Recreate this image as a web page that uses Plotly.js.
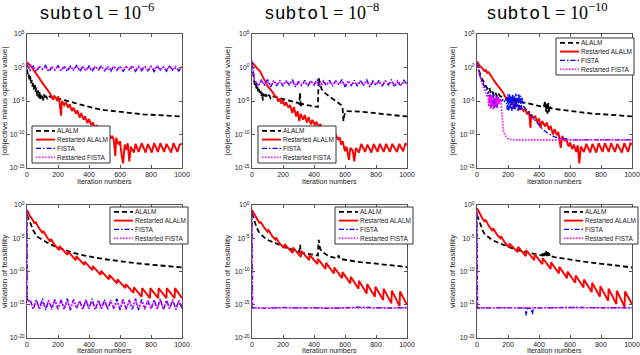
<!DOCTYPE html>
<html><head><meta charset="utf-8">
<script src="https://cdn.plot.ly/plotly-3.0.1.min.js"></script>
<style>html,body{margin:0;padding:0;background:#fff;} #chart{width:640px;height:355px;}</style>
</head><body><div id="chart"></div>
<script>
// ---------- series meta ----------
const seriesNames = ['ALALM', 'Restarted ALALM', 'FISTA', 'Restarted FISTA'];
const subtolExps = ['−6', '−8', '−10'];
const iterTicks = [0, 200, 400, 600, 800, 1000];
const topTickExps = [-15, -10, -5, 0, 5];
const botTickExps = [-20, -15, -10, -5, 0];
const yTitles = ['|objective minus optimal value|', 'violation of feasibility'];
const xTitle = 'Iteration numbers';

// ---------- data: [iteration, log10(value)] ----------
// Top row: |objective minus optimal value|
const T1_alalm = [[0,-0.3],[5,-1.0],[10,-0.8],[15,-1.8],[20,-1.3],[25,-2.4],[30,-1.9],[35,-2.8],[40,-2.2],[45,-3.3],[50,-2.6],[55,-3.6],[60,-3.0],[65,-4.2],[70,-3.4],[75,-4.5],[80,-3.6],[85,-4.8],[90,-3.9],[95,-4.6],[100,-4.1],[105,-4.9],[110,-4.0],[115,-4.7],[120,-4.2],[130,-4.6],[140,-4.2],[150,-4.4],[175,-4.5],[200,-4.65],[250,-5.0],[300,-5.35],[350,-5.65],[400,-5.9],[450,-6.15],[500,-6.35],[550,-6.5],[600,-6.65],[650,-6.8],[700,-6.9],[750,-7.0],[800,-7.05],[850,-7.15],[900,-7.2],[950,-7.25],[1000,-7.3]];
const T1_ralalm = [[0,0.8],[10,0.6],[20,0.3],[30,0.1],[40,-0.3],[50,-0.6],[60,-0.9],[70,-1.3],[80,-1.6],[90,-2.0],[100,-2.3],[110,-2.6],[120,-3.0],[130,-3.2],[140,-3.6],[150,-3.9],[160,-4.5],[170,-4.8],[175,-4.2],[185,-4.5],[195,-5.0],[200,-4.3],[210,-5.2],[220,-7.2],[225,-5.0],[240,-5.6],[250,-5.2],[265,-6.0],[275,-5.5],[290,-6.5],[300,-6.0],[315,-6.9],[325,-6.4],[340,-7.5],[350,-6.8],[365,-7.8],[375,-7.3],[390,-8.3],[400,-7.7],[415,-8.6],[425,-8.2],[440,-9.2],[450,-8.6],[465,-9.5],[475,-9.1],[490,-10.0],[500,-9.5],[515,-10.3],[525,-9.9],[540,-10.6],[550,-10.2],[560,-10.9],[570,-13.2],[575,-10.5],[590,-11.5],[600,-11.0],[610,-13.0],[620,-14.3],[630,-11.5],[640,-12.3],[650,-11.3],[660,-14.0],[670,-11.8],[690,-12.7],[700,-11.4],[720,-12.6],[740,-11.3],[765,-12.7],[780,-11.4],[805,-12.7],[820,-11.3],[845,-12.6],[860,-11.3],[885,-12.6],[900,-11.4],[930,-12.7],[945,-11.3],[970,-12.6],[985,-11.5],[1000,-11.4]];
// FISTA bands sampled every 20 iterations from 0
const T1_fista_band = [
  0.5,-0.5,0.2,-0.6,0.1,-0.3,0.3,-0.6,0.0,-0.4,
  0.25,-0.5,0.1,-0.6,0.2,-0.3,0.3,-0.55,0.05,-0.45,
  0.2,-0.6,0.15,-0.35,0.3,-0.5,0.0,-0.6,0.2,-0.4,
  0.25,-0.55,0.1,-0.3,0.3,-0.6,0.05,-0.45,0.2,-0.5,
  0.15,-0.6,0.25,-0.35,0.1,-0.55,0.3,-0.4,0.0,-0.5,
  0.1];
const T1_rfista_band = [
  0.6,-0.3,0.15,-0.4,0.2,-0.2,0.1,-0.4,0.2,-0.3,
  0.15,-0.35,0.2,-0.25,0.1,-0.4,0.2,-0.3,0.15,-0.4,
  0.05,-0.3,0.2,-0.35,0.1,-0.4,0.2,-0.25,0.15,-0.4,
  0.1,-0.3,0.2,-0.35,0.15,-0.4,0.2,-0.25,0.1,-0.4,
  0.2,-0.3,0.15,-0.35,0.1,-0.4,0.2,-0.3,0.15,-0.35,
  0.0];

const T2_alalm = [[0,0.5],[5,-0.8],[10,-1.8],[15,-2.2],[20,-2.8],[25,-2.5],[30,-3.3],[35,-2.9],[40,-3.7],[45,-3.2],[50,-4.0],[55,-3.5],[60,-4.3],[65,-3.7],[70,-4.9],[75,-3.9],[80,-4.5],[90,-4.0],[100,-4.5],[110,-4.1],[120,-4.6],[130,-4.3],[150,-4.4],[200,-4.7],[250,-5.0],[300,-5.3],[305,-5.5],[310,-3.8],[315,-6.0],[320,-5.4],[350,-5.6],[400,-5.8],[425,-5.9],[430,-1.6],[440,-2.6],[450,-3.3],[475,-3.9],[500,-4.3],[525,-4.7],[550,-5.1],[575,-5.6],[585,-6.2],[590,-8.0],[595,-7.2],[600,-6.8],[610,-6.5],[650,-6.5],[700,-6.6],[750,-6.7],[800,-6.85],[850,-7.0],[900,-7.1],[950,-7.2],[1000,-7.3]];
const T2_ralalm = [[0,0.8],[10,0.5],[20,0.2],[30,0.0],[40,-0.3],[50,-0.5],[60,-0.9],[70,-1.3],[80,-1.8],[90,-2.3],[100,-2.8],[110,-3.0],[120,-3.3],[130,-3.6],[140,-4.0],[150,-4.3],[160,-4.4],[170,-5.1],[180,-4.6],[190,-5.4],[200,-4.9],[210,-5.7],[220,-5.2],[235,-6.0],[245,-5.6],[260,-6.8],[270,-5.9],[285,-7.3],[295,-6.5],[305,-8.0],[315,-6.9],[330,-7.8],[340,-7.1],[355,-8.2],[365,-7.4],[380,-8.5],[390,-7.8],[405,-8.6],[415,-8.1],[430,-9.0],[440,-8.4],[455,-9.2],[465,-8.8],[480,-9.6],[490,-9.2],[505,-10.0],[515,-9.6],[530,-10.3],[540,-10.0],[555,-10.8],[565,-10.4],[575,-11.5],[585,-11.0],[600,-12.5],[610,-11.8],[625,-13.8],[635,-12.0],[650,-12.4],[660,-14.0],[670,-12.0],[690,-12.7],[705,-11.4],[730,-12.6],[745,-11.5],[770,-12.7],[785,-11.4],[810,-12.6],[825,-11.4],[850,-12.6],[865,-11.4],[890,-12.6],[905,-11.4],[935,-12.6],[950,-11.4],[975,-12.5],[990,-11.3],[1000,-11.6]];
const T2_fista_head = [[0,1.0],[5,0.0],[10,-1.0],[15,-1.8]];
const T2_fista_band = [  // from iteration 20, every 20
  -2.0,-2.8,-1.9,-2.6,-1.8,-2.9,-2.1,-2.7,-1.9,-2.8,
  -2.0,-2.6,-1.8,-2.9,-2.2,-2.7,-1.9,-2.8,-2.0,-2.6,
  -1.8,-2.9,-2.1,-2.7,-1.9,-2.8,-2.0,-2.6,-1.8,-2.9,
  -2.2,-2.7,-1.9,-2.8,-2.0,-2.6,-1.8,-2.9,-2.1,-2.7,
  -1.9,-2.8,-2.0,-2.6,-1.8,-2.9,-2.2,-2.7,-1.9,-2.5];
const T2_rfista_head = [[0,0.9],[5,-0.2],[10,-1.1],[15,-1.9]];
const T2_rfista_band = [
  -2.1,-2.6,-2.0,-2.5,-2.1,-2.7,-2.0,-2.5,-2.2,-2.6,
  -2.0,-2.5,-2.1,-2.7,-2.0,-2.6,-2.2,-2.5,-2.0,-2.6,
  -2.1,-2.7,-2.0,-2.5,-2.2,-2.6,-2.0,-2.5,-2.1,-2.7,
  -2.0,-2.6,-2.2,-2.5,-2.0,-2.6,-2.1,-2.7,-2.0,-2.5,
  -2.2,-2.6,-2.0,-2.5,-2.1,-2.7,-2.0,-2.6,-2.2,-2.4];

const T3_alalm = [[0,0.7],[10,-0.3],[20,-1.0],[30,-1.6],[40,-2.0],[50,-2.4],[60,-2.9],[70,-3.3],[80,-3.0],[90,-3.9],[100,-3.6],[110,-4.3],[120,-3.8],[130,-4.4],[140,-4.0],[150,-4.3],[175,-4.4],[200,-4.6],[250,-4.9],[300,-5.2],[350,-5.5],[400,-5.75],[430,-5.9],[440,-5.0],[445,-6.6],[450,-5.5],[455,-6.9],[460,-5.3],[465,-6.6],[470,-5.9],[480,-6.1],[500,-6.2],[550,-6.35],[600,-6.5],[650,-6.65],[700,-6.8],[750,-6.9],[800,-6.95],[850,-7.05],[900,-7.15],[950,-7.25],[1000,-7.3]];
const T3_ralalm = [[0,0.9],[10,0.5],[20,0.2],[30,0.0],[40,-0.3],[50,-0.6],[55,-0.3],[65,-0.8],[75,-0.7],[90,-1.3],[100,-1.7],[110,-2.0],[120,-2.3],[130,-2.6],[140,-2.9],[150,-3.1],[160,-3.4],[170,-3.8],[180,-4.3],[190,-4.7],[200,-5.0],[210,-4.6],[225,-5.6],[235,-5.2],[250,-5.9],[260,-5.5],[275,-6.3],[285,-5.9],[300,-6.5],[310,-6.2],[325,-7.0],[335,-6.5],[345,-9.0],[350,-7.0],[365,-7.6],[375,-7.2],[390,-8.2],[400,-7.6],[410,-9.0],[420,-8.0],[440,-8.8],[450,-8.2],[465,-9.3],[475,-8.7],[490,-10.0],[500,-9.2],[515,-10.1],[525,-9.6],[540,-12.0],[550,-10.2],[565,-11.0],[575,-10.6],[590,-11.8],[600,-11.2],[615,-12.2],[625,-11.5],[640,-12.6],[650,-11.6],[660,-14.3],[670,-11.8],[690,-12.6],[705,-11.4],[730,-12.7],[745,-11.4],[770,-12.7],[785,-11.3],[810,-12.6],[825,-11.3],[850,-12.6],[865,-11.3],[890,-12.6],[905,-11.4],[935,-12.7],[950,-11.3],[975,-12.6],[990,-11.3],[1000,-11.5]];
const T3_fista = [[0,0.7],[10,-0.5],[20,-1.3],[30,-1.9],[40,-2.5],[50,-3.0],[60,-3.4],[70,-3.9],[75,-3.6],[80,-5.2],[85,-4.0],[90,-6.0],[95,-4.2],[100,-5.5],[105,-3.9],[110,-6.2],[115,-4.5],[120,-5.8],[125,-4.1],[130,-6.0],[135,-4.4],[140,-5.3],[150,-4.8],[160,-5.0],[170,-4.7],[180,-5.2],[190,-4.6],[195,-6.3],[200,-4.0],[205,-6.4],[210,-3.9],[215,-6.1],[220,-4.2],[225,-6.5],[230,-4.0],[235,-6.2],[240,-4.3],[245,-6.4],[250,-3.9],[255,-6.0],[260,-4.1],[265,-6.5],[270,-3.9],[275,-6.2],[280,-4.2],[285,-6.3],[290,-4.5],[300,-5.8],[320,-6.3],[350,-7.2],[380,-8.0],[400,-8.6],[420,-9.1],[450,-9.7],[480,-10.1],[500,-10.35],[530,-10.55],[560,-10.7],[600,-10.8],[1000,-10.8]];
const T3_rfista = [[0,0.6],[10,-0.7],[20,-1.5],[30,-2.2],[40,-2.9],[50,-3.5],[60,-3.9],[65,-4.4],[70,-4.0],[75,-5.8],[80,-4.3],[85,-6.2],[90,-4.1],[95,-5.9],[100,-4.4],[105,-6.3],[110,-4.2],[115,-5.7],[120,-4.5],[125,-6.1],[130,-4.3],[135,-5.6],[140,-4.6],[145,-5.4],[150,-4.7],[155,-5.0],[160,-6.5],[165,-8.3],[170,-9.4],[180,-10.1],[190,-10.45],[200,-10.6],[220,-10.75],[250,-10.8],[1000,-10.8]];

// Bottom row: violation of feasibility
const B1_alalm = [[0,-1.5],[10,-2.0],[20,-2.6],[30,-3.2],[40,-3.8],[50,-4.25],[60,-4.6],[75,-4.9],[100,-5.25],[125,-5.6],[150,-5.9],[200,-6.4],[250,-6.85],[300,-7.2],[350,-7.5],[400,-7.75],[450,-7.95],[500,-8.15],[550,-8.3],[600,-8.5],[650,-8.6],[700,-8.75],[750,-8.85],[800,-9.0],[850,-9.1],[900,-9.25],[950,-9.3],[1000,-9.4]];
const B1_ralalm = [[0,-0.75],[10,-1.3],[20,-1.7],[30,-2.0],[40,-2.5],[50,-2.8],[55,-2.5],[75,-3.4],[100,-4.2],[105,-3.9],[130,-4.9],[150,-5.5],[155,-5.1],[175,-5.9],[207,-6.8],[210,-6.2],[262,-7.5],[265,-7.0],[315,-8.3],[318,-7.7],[369,-9.0],[372,-8.5],[422,-9.8],[425,-9.2],[475,-10.5],[478,-9.9],[528,-11.2],[531,-10.5],[581,-11.8],[584,-11.2],[634,-12.5],[637,-11.9],[687,-13.2],[690,-12.4],[740,-13.8],[743,-12.5],[793,-14.0],[796,-12.5],[846,-14.0],[849,-12.5],[899,-14.0],[902,-12.5],[952,-14.0],[955,-12.5],[1000,-14.0]];
const B1_fista_head = [[0,-1.0],[2,-14.5]];
const B1_fista_band = [  // from iteration 20, every 20
  -14.2,-15.7,-14.3,-15.6,-14.1,-15.8,-14.4,-15.5,-14.2,-15.7,
  -14.3,-15.6,-14.1,-15.8,-14.2,-15.5,-14.4,-15.7,-14.2,-15.6,
  -14.1,-15.8,-14.3,-15.6,-14.2,-15.7,-14.4,-15.5,-14.1,-15.8,
  -14.2,-15.6,-14.3,-15.7,-14.1,-15.8,-14.2,-15.5,-14.4,-15.7,
  -14.2,-15.6,-14.1,-15.8,-14.3,-15.6,-14.2,-15.7,-14.3,-15.5];
const B1_rfista_head = [[0,-1.2],[2,-14.6]];
const B1_rfista_band = [
  -14.4,-15.6,-14.3,-15.7,-14.5,-15.5,-14.3,-15.7,-14.4,-15.6,
  -14.3,-15.7,-14.5,-15.6,-14.3,-15.5,-14.4,-15.7,-14.3,-15.6,
  -14.5,-15.7,-14.3,-15.6,-14.4,-15.5,-14.3,-15.7,-14.5,-15.6,
  -14.3,-15.7,-14.4,-15.6,-14.3,-15.5,-14.5,-15.7,-14.3,-15.6,
  -14.4,-15.7,-14.3,-15.6,-14.5,-15.5,-14.3,-15.7,-14.4,-15.6];

const B2_alalm = [[0,-1.25],[10,-2.0],[20,-2.8],[30,-3.4],[40,-3.9],[50,-4.25],[75,-4.8],[100,-5.25],[150,-5.7],[200,-6.25],[250,-6.65],[300,-7.0],[305,-7.05],[310,-6.0],[315,-7.2],[350,-7.3],[400,-7.5],[425,-7.6],[430,-5.25],[440,-6.6],[450,-7.0],[500,-7.75],[550,-8.0],[560,-7.6],[565,-8.1],[600,-8.25],[650,-8.45],[700,-8.6],[750,-8.7],[800,-8.8],[850,-8.95],[900,-9.05],[950,-9.2],[1000,-9.35]];
const B2_ralalm = [[0,-0.75],[10,-1.2],[20,-1.6],[30,-2.0],[40,-2.4],[50,-2.75],[55,-2.5],[75,-3.3],[100,-4.0],[105,-3.7],[130,-4.7],[150,-5.2],[155,-4.9],[175,-5.7],[207,-6.5],[210,-5.9],[262,-7.2],[265,-6.4],[315,-7.8],[318,-6.9],[369,-8.3],[372,-7.5],[422,-8.9],[425,-8.1],[475,-9.6],[478,-8.7],[528,-10.3],[531,-9.4],[581,-11.0],[584,-10.1],[634,-11.8],[637,-10.8],[687,-12.6],[690,-11.4],[740,-13.3],[743,-11.9],[793,-13.8],[796,-12.3],[846,-14.3],[849,-12.6],[899,-14.8],[902,-12.9],[952,-15.2],[955,-13.0],[1000,-15.0]];
const B2_fista = [[0,-1.0],[3,-15.45],[100,-15.55],[200,-15.4],[300,-15.5],[400,-15.45],[500,-15.55],[600,-15.4],[700,-15.35],[800,-15.45],[900,-15.5],[1000,-15.4]];
const B2_rfista = [[0,-1.1],[3,-15.5],[250,-15.45],[500,-15.5],[750,-15.45],[1000,-15.5]];

const B3_alalm = [[0,-1.5],[10,-2.2],[20,-2.9],[30,-3.5],[40,-4.0],[50,-4.4],[75,-4.9],[100,-5.3],[150,-5.8],[200,-6.3],[250,-6.7],[300,-7.0],[350,-7.3],[400,-7.5],[420,-7.6],[425,-7.1],[430,-7.7],[435,-7.0],[440,-7.6],[445,-6.9],[450,-7.7],[455,-7.1],[460,-7.8],[465,-7.2],[470,-7.8],[480,-7.7],[500,-7.85],[550,-8.05],[600,-8.25],[650,-8.4],[700,-8.55],[750,-8.7],[800,-8.8],[850,-8.95],[900,-9.1],[950,-9.25],[1000,-9.4]];
const B3_ralalm = [[0,-0.5],[10,-1.0],[20,-1.4],[30,-1.8],[40,-2.2],[50,-2.5],[55,-2.2],[75,-3.1],[100,-3.9],[105,-3.5],[130,-4.5],[150,-5.0],[155,-4.7],[175,-5.5],[207,-6.4],[210,-5.8],[262,-7.1],[265,-6.3],[315,-7.7],[318,-6.8],[369,-8.3],[372,-7.4],[422,-8.9],[425,-8.0],[475,-9.6],[478,-8.6],[528,-10.3],[531,-9.3],[581,-11.0],[584,-10.0],[634,-11.7],[637,-10.6],[687,-12.4],[690,-11.2],[740,-13.1],[743,-11.7],[793,-13.8],[796,-12.2],[846,-14.4],[849,-12.6],[899,-14.9],[902,-12.9],[952,-15.3],[955,-13.0],[1000,-14.9]];
const B3_fista = [[0,-1.0],[3,-15.5],[150,-15.45],[250,-15.55],[310,-15.5],[318,-16.6],[324,-15.5],[350,-15.6],[357,-16.4],[364,-15.5],[450,-15.45],[600,-15.4],[800,-15.45],[1000,-15.45]];
const B3_rfista = [[0,-1.1],[3,-15.45],[500,-15.45],[1000,-15.45]];

// ---------- helpers ----------
function bandPts(start, step, vals) { return vals.map((v, i) => [start + i * step, v]); }
const panelData = [
  [T1_alalm, T1_ralalm, bandPts(0, 20, T1_fista_band), bandPts(0, 20, T1_rfista_band)],
  [T2_alalm, T2_ralalm, T2_fista_head.concat(bandPts(20, 20, T2_fista_band)), T2_rfista_head.concat(bandPts(20, 20, T2_rfista_band))],
  [T3_alalm, T3_ralalm, T3_fista, T3_rfista],
  [B1_alalm, B1_ralalm, B1_fista_head.concat(bandPts(20, 20, B1_fista_band)), B1_rfista_head.concat(bandPts(20, 20, B1_rfista_band))],
  [B2_alalm, B2_ralalm, B2_fista, B2_rfista],
  [B3_alalm, B3_ralalm, B3_fista, B3_rfista]
];

// ---------- styles ----------
const W = 640, H = 355;
const seriesColors = ['#000000', '#ff0000', '#0000ff', '#ff00ff'];
const seriesDash = ['5px,3px', 'solid', '5px,2px,1.5px,2px', '1.5px,1.5px'];
const seriesWidth = [1.8, 1.9, 1.4, 1.6];
const colPx = [[27, 182], [252, 407], [477, 632]];
const rowPx = [[34, 168], [205, 338]];
const xTitleYPx = [181.5, 350.5];
const legendPx = [[32, 126], [258, 126], [556, 38], [110, 207], [335, 207], [560, 207]];
const titleLeftPx = [37, 262, 484];
const axisFont = 'Liberation Sans, Arial, sans-serif';

const px2x = p => p / W;
const px2y = p => 1 - p / H;

const traces = [];
const layout = {
  width: W, height: H, margin: {l: 0, r: 0, t: 0, b: 0},
  paper_bgcolor: '#fff', plot_bgcolor: '#fff', showlegend: false,
  font: {family: axisFont, color: '#222', size: 7},
  shapes: [], annotations: []
};

for (let k = 0; k < 6; k++) {
  const row = Math.floor(k / 3), col = k % 3;
  const s = k === 0 ? '' : String(k + 1);
  panelData[k].forEach((pts, j) => {
    traces.push({
      type: 'scatter', mode: 'lines', name: seriesNames[j],
      x: pts.map(p => p[0]), y: pts.map(p => Math.pow(10, p[1])),
      xaxis: 'x' + s, yaxis: 'y' + s,
      line: {color: seriesColors[j], width: seriesWidth[j], dash: seriesDash[j]},
      hoverinfo: 'skip'
    });
  });
  const tickExps = row === 0 ? topTickExps : botTickExps;
  const common = {
    showline: true, mirror: 'ticks', linecolor: '#555', linewidth: 1,
    ticks: 'inside', ticklen: 3, tickcolor: '#555', tickwidth: 1,
    showgrid: false, zeroline: false,
    tickfont: {family: axisFont, size: 7, color: '#222'}
  };
  layout['xaxis' + s] = Object.assign({}, common, {
    domain: [px2x(colPx[col][0]), px2x(colPx[col][1])], anchor: 'y' + s,
    range: [0, 1000], tickmode: 'array', tickvals: iterTicks, ticktext: iterTicks.map(String)
  });
  layout['yaxis' + s] = Object.assign({}, common, {
    domain: [px2y(rowPx[row][1]), px2y(rowPx[row][0])], anchor: 'x' + s,
    type: 'log', range: [tickExps[0], tickExps[tickExps.length - 1]], tickmode: 'array',
    tickvals: tickExps.map(e => Math.pow(10, e)),
    ticktext: tickExps.map(e => '10<sup>' + e + '</sup>'),
    title: {text: yTitles[row], font: {family: axisFont, size: 8, color: '#222'}, standoff: 2}
  });
  // x-axis title as annotation (keeps it inside the figure)
  layout.annotations.push({xref: 'paper', yref: 'paper',
    x: px2x((colPx[col][0] + colPx[col][1]) / 2), y: px2y(xTitleYPx[row]),
    xanchor: 'center', yanchor: 'middle', showarrow: false, text: xTitle, borderpad: 0,
    font: {family: axisFont, size: 7, color: '#222'}});

  // compact legend box per panel
  const [lx, ly] = legendPx[k];
  const lw = 78, lh = 37;
  layout.shapes.push({type: 'rect', xref: 'paper', yref: 'paper',
    x0: px2x(lx), x1: px2x(lx + lw), y0: px2y(ly + lh), y1: px2y(ly),
    fillcolor: '#fff', line: {color: '#333', width: 1}});
  seriesNames.forEach((nm, j) => {
    const yy = ly + 4.8 + j * 8.8;
    layout.shapes.push({type: 'line', xref: 'paper', yref: 'paper',
      x0: px2x(lx + 4), x1: px2x(lx + 23), y0: px2y(yy), y1: px2y(yy),
      line: {color: seriesColors[j], width: seriesWidth[j], dash: seriesDash[j]}});
    layout.annotations.push({xref: 'paper', yref: 'paper', x: px2x(lx + 23), y: px2y(yy),
      xanchor: 'left', yanchor: 'middle', showarrow: false, text: nm,
      font: {family: axisFont, size: 6.5, color: '#222'}});
  });
}

// panel titles
subtolExps.forEach((e, c) => {
  layout.annotations.push({xref: 'paper', yref: 'paper', x: px2x(titleLeftPx[c]), y: px2y(12),
    xanchor: 'left', yanchor: 'middle', showarrow: false,
    text: '<span style="font-family:Liberation Mono">subtol</span> = 10<sup>' + e + '</sup>',
    font: {family: 'Liberation Serif, DejaVu Serif, serif', size: 18, color: '#000'}});
});

Plotly.newPlot('chart', traces, layout, {displayModeBar: false, staticPlot: true});
</script></body></html>
